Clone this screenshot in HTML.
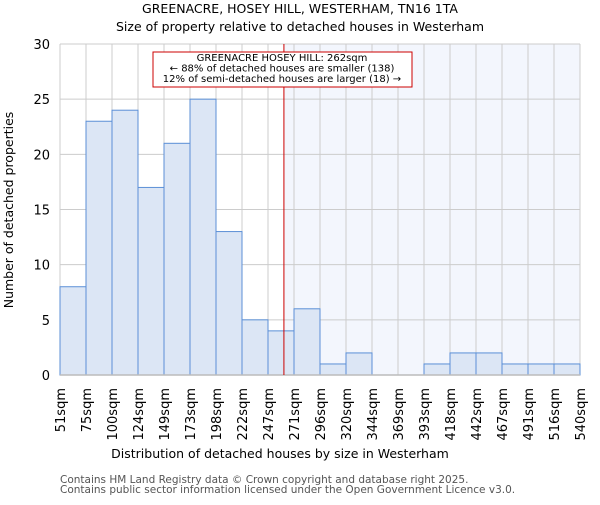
<!DOCTYPE html>
<html><head><meta charset="utf-8"><style>
body{margin:0;background:#fff}
svg text{font-family:"DejaVu Sans","Liberation Sans",sans-serif}
</style></head><body>
<svg id="chart" width="600" height="500" xmlns="http://www.w3.org/2000/svg">
<text x="300" y="13" text-anchor="middle" font-size="12.5">GREENACRE, HOSEY HILL, WESTERHAM, TN16 1TA</text>
<text x="300" y="31" text-anchor="middle" font-size="12.5">Size of property relative to detached houses in Westerham</text>
<g id="plot"></g>
<text x="280" y="458" text-anchor="middle" font-size="12.5">Distribution of detached houses by size in Westerham</text>
<text transform="translate(13,210) rotate(-90)" text-anchor="middle" font-size="12.5">Number of detached properties</text>
<text x="60" y="483" font-size="10.5" fill="#555">Contains HM Land Registry data © Crown copyright and database right 2025.</text>
<text x="60" y="493" font-size="10.5" fill="#555">Contains public sector information licensed under the Open Government Licence v3.0.</text>
</svg>
<script>
const categories=["51sqm","75sqm","100sqm","124sqm","149sqm","173sqm","198sqm","222sqm","247sqm","271sqm","296sqm","320sqm","344sqm","369sqm","393sqm","418sqm","442sqm","467sqm","491sqm","516sqm","540sqm"];
const counts=[8,23,24,17,21,25,13,5,4,6,1,2,0,0,1,2,2,1,1,1];
const yTicks=[0,5,10,15,20,25,30];
const markerValue=262;
const binStart=51, binWidthSqm=24.5;
const X0=60,X1=580,Y0=375,Y1=44,yMax=30;
const bw=(X1-X0)/counts.length;
const xs=v=>X0+(v-binStart)/binWidthSqm*bw;
const ys=v=>Y0-(v/yMax)*(Y0-Y1);
const NS="http://www.w3.org/2000/svg";
const g=document.getElementById('plot');
function mk(t,a){const e=document.createElementNS(NS,t);for(const k in a)e.setAttribute(k,a[k]);g.appendChild(e);return e;}
const mx=xs(markerValue);
let sh=mk('rect',{x:mx,y:Y1,width:X1-mx,height:Y0-Y1,fill:'#f3f6fd'});


for(let i=0;i<=counts.length;i++){const l=mk('line',{x1:X0+i*bw,x2:X0+i*bw,y1:Y1,y2:Y0,stroke:'#ccc','stroke-width':1});

}
yTicks.forEach(t=>{const l=mk('line',{x1:X0,x2:X1,y1:ys(t),y2:ys(t),stroke:'#ccc','stroke-width':1});


const tx=mk('text',{x:X0-10,y:ys(t)+5,'text-anchor':'end','font-size':13});tx.textContent=t;

});
counts.forEach((c,i)=>{const r=mk('rect',{x:X0+i*bw,y:ys(c),width:bw,height:Y0-ys(c),fill:'#dce6f5',stroke:'#5b8fd6','stroke-width':1});

});
categories.forEach((c,i)=>{const x=X0+i*bw;const t=mk('text',{transform:`translate(${x+5},388) rotate(-90)`,'text-anchor':'end','font-size':13});t.textContent=c;

});
let ax=mk('line',{x1:X0,x2:X1,y1:Y0,y2:Y0,stroke:'#bbb','stroke-width':1.5});


let ml=mk('line',{x1:mx,x2:mx,y1:Y1,y2:Y0,stroke:'#cc0000','stroke-width':1});


let box=mk('rect',{x:153,y:52,width:259,height:35,fill:'#fff',stroke:'#cc0000','stroke-width':1});


["GREENACRE HOSEY HILL: 262sqm","← 88% of detached houses are smaller (138)","12% of semi-detached houses are larger (18) →"].forEach((s,i)=>{const t=mk('text',{x:282,y:61+i*10.5,'text-anchor':'middle','font-size':10});t.textContent=s;

});
</script>
</body></html>
